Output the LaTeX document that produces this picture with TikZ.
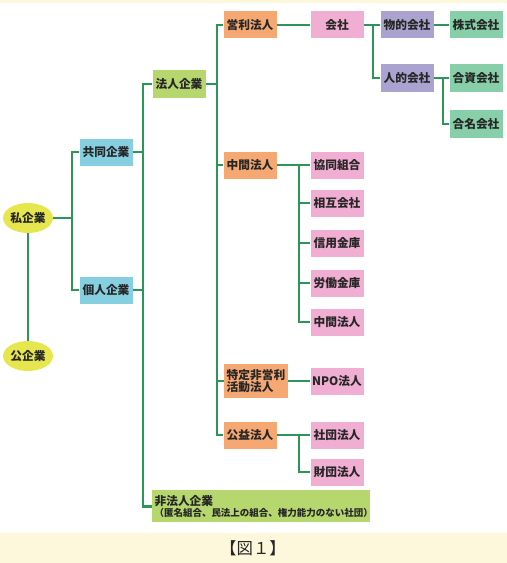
\documentclass[tikz,border=0pt]{standalone}
\usepackage{fontspec}
\setmainfont{Noto Sans CJK JP}
\usetikzlibrary{positioning, shapes.geometric, calc}
\definecolor{linkgreen}{HTML}{2E955A}
\definecolor{ovalyellow}{HTML}{E6E64E}
\definecolor{boxblue}{HTML}{86CFE0}
\definecolor{boxlime}{HTML}{B6D66E}
\definecolor{boxorange}{HTML}{F5A872}
\definecolor{boxpink}{HTML}{F1AED3}
\definecolor{boxviolet}{HTML}{AAA3CF}
\definecolor{boxteal}{HTML}{86CFA8}
\definecolor{bandcream}{HTML}{FDF8DC}

\begin{document}
\begin{tikzpicture}[
    x=0.03cm, y=-0.03cm,
    box/.style={rectangle, minimum width=1.59cm, minimum height=0.81cm,
                inner sep=1pt, align=center, text=black!85,
                font=\bfseries\fontsize{10}{11.5}\selectfont},
    oval/.style={ellipse, fill=ovalyellow, minimum width=1.5cm,
                 minimum height=0.9cm, inner sep=0pt, text=black!85,
                 font=\bfseries\fontsize{10}{11.5}\selectfont},
    bbox/.style={box, fill=boxblue},
    lbox/.style={box, fill=boxlime},
    obox/.style={box, fill=boxorange},
    pbox/.style={box, fill=boxpink},
    vbox/.style={box, fill=boxviolet},
    tbox/.style={box, fill=boxteal},
    link/.style={draw=linkgreen, line width=2.5pt},
]
\useasboundingbox (0,0) rectangle (507,563);

% bands
\fill[bandcream] (0,0) rectangle (507,3);
\fill[bandcream] (0,533) rectangle (507,563);

% bus positions
\coordinate (busA) at (72,0);
\coordinate (busB) at (143,0);
\coordinate (busC) at (217,0);
\coordinate (busD) at (299,0);
\coordinate (busE) at (373,0);
\coordinate (busF) at (443,0);

% === level 1 ===
\node[oval] (shi) at (28,218) {私企業};
\node[oval] (ko) at (28,356) {公企業};

% === level 2 ===
\node[bbox] (kyodo) at (106,152) {共同企業};
\node[bbox] (kojin) at (106,290) {個人企業};

% === level 3 ===
\node[lbox] (hojin) at (179,84) {法人企業};
\node[lbox, anchor=north west, minimum width=6.54cm, minimum height=0.96cm,
      text width=6.4cm, inner xsep=0.07cm, align=left]
    (hihojin) at (152,490) {非法人企業\\[-2pt]{\fontsize{8.1}{9.5}\selectfont （匿名組合、民法上の組合、権力能力のない社団）}};

% === level 4 ===
\node[obox] (eiri) at (250,25) {営利法人};
\node[obox] (chukan) at (250,165) {中間法人};
\node[obox, minimum width=1.92cm, minimum height=1cm, align=left]
    (tokutei) at (256,381) {特定非営利\\[-1pt]活動法人};
\node[obox] (koeki) at (250,435) {公益法人};

% === level 5 ===
\node[pbox] (kaisha) at (337,25) {会社};
\node[pbox] (kumiai) at (337,165) {協同組合};
\node[pbox] (sogo) at (337,203) {相互会社};
\node[pbox] (shinyo) at (337,243) {信用金庫};
\node[pbox] (rodo) at (337,283) {労働金庫};
\node[pbox] (chukanb) at (337,322) {中間法人};
\node[pbox] (npo) at (337,381) {NPO法人};
\node[pbox] (shadan) at (337,435) {社団法人};
\node[pbox] (zaidan) at (337,472) {財団法人};

% === companies ===
\node[vbox] (butsu) at (407,25) {物的会社};
\node[vbox] (jin) at (407,78) {人的会社};
\node[tbox] (kabu) at (476,25) {株式会社};
\node[tbox] (goshi) at (476,78) {合資会社};
\node[tbox] (gomei) at (476,124) {合名会社};

% caption
\node[font=\fontsize{14}{16}\selectfont, text=black!85] (caption) at (253,548) {【図１】};

% connectors
\draw[link] (shi) -- (ko);
\draw[link] (shi.east) -- (shi.east -| busA);
\draw[link] (kyodo.west) -- (kyodo.west -| busA) |- (kojin.west);

\draw[link] (hojin.west) -- (hojin.west -| busB) |- (hihojin.west);
\draw[link] (kyodo.east) -- (kyodo.east -| busB);
\draw[link] (kojin.east) -- (kojin.east -| busB);

\draw[link] (eiri.west) -- (eiri.west -| busC) |- (koeki.west);
\draw[link] (hojin.east) -- (hojin.east -| busC);
\draw[link] (chukan.west) -- (chukan.west -| busC);
\draw[link] (tokutei.west) -- (tokutei.west -| busC);

\draw[link] (eiri) -- (kaisha);
\draw[link] (butsu.west) -- (butsu.west -| busE) |- (jin.west);
\draw[link] (kaisha.east) -- (kaisha.east -| busE);
\draw[link] (butsu) -- (kabu);
\draw[link] (goshi.west) -- (goshi.west -| busF) |- (gomei.west);
\draw[link] (jin.east) -- (jin.east -| busF);

\draw[link] (kumiai.west) -- (kumiai.west -| busD) |- (chukanb.west);
\draw[link] (chukan.east) -- (chukan.east -| busD);
\foreach \n in {sogo, shinyo, rodo}
  \draw[link] (\n.west) -- (\n.west -| busD);

\draw[link] (tokutei) -- (npo);
\draw[link] (shadan.west) -- (shadan.west -| busD) |- (zaidan.west);
\draw[link] (koeki.east) -- (koeki.east -| busD);

\end{tikzpicture}
\end{document}
